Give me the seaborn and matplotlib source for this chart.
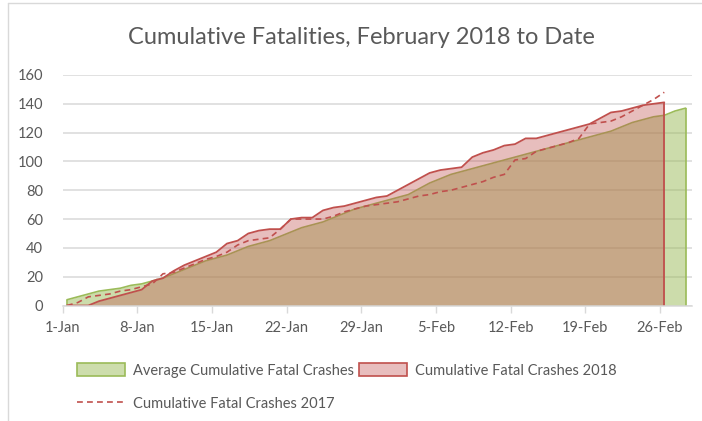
import numpy as np
import pandas as pd
import matplotlib
matplotlib.use("Agg")
import matplotlib.pyplot as plt
import seaborn as sns
from matplotlib.patches import Patch
from matplotlib.lines import Line2D

# ---- data ----
tick_labels = ["1-Jan", "8-Jan", "15-Jan", "22-Jan", "29-Jan", "5-Feb", "12-Feb", "19-Feb", "26-Feb"]
avg_cum = [4, 6, 8, 10, 11, 12, 14, 15, 17, 19, 22, 25, 28, 31, 33, 35, 38, 41, 43, 45,
           48, 51, 54, 56, 58, 61, 64, 67, 69, 71, 73, 75, 77, 81, 85, 88, 91, 93, 95, 97,
           99, 101, 103, 105, 107, 109, 111, 113, 115, 117, 119, 121, 124, 127, 129, 131, 132, 135, 137]
cum_2018 = [0, 0, 0, 3, 5, 7, 9, 11, 17, 19, 24, 28, 31, 34, 37, 43, 45, 50, 52, 53,
            53, 60, 61, 61, 66, 68, 69, 71, 73, 75, 76, 80, 84, 88, 92, 94, 95, 96, 103, 106,
            108, 111, 112, 116, 116, 118, 120, 122, 124, 126, 130, 134, 135, 137, 139, 140, 141]
cum_2017 = [0, 2, 6, 7, 8, 10, 11, 13, 15, 22, 23, 26, 29, 32, 34, 37, 42, 45, 46, 47,
            53, 60, 60, 60, 60, 62, 65, 67, 69, 70, 71, 72, 74, 76, 77, 79, 80, 82, 84, 86,
            89, 91, 101, 102, 107, 109, 111, 113, 116, 126, 127, 128, 131, 135, 139, 143, 148]

labels = ["Average Cumulative Fatal Crashes", "Cumulative Fatal Crashes 2018",
          "Cumulative Fatal Crashes 2017"]

GREEN = "#9BBB59"
RED = "#C0504D"
TEXT = "#595959"
GRID = "#D9D9D9"

sns.set_theme(style="white")
plt.rcParams["font.family"] = ["Lato", "DejaVu Sans"]

offset = 0.4
df_avg = pd.DataFrame({"x": np.arange(len(avg_cum)) + offset, "y": avg_cum})
df_18 = pd.DataFrame({"x": np.arange(len(cum_2018)) + offset, "y": cum_2018})
df_17 = pd.DataFrame({"x": np.arange(len(cum_2017)) + offset, "y": cum_2017})

fig = plt.figure(figsize=(7.02, 4.21), dpi=100)
ax = fig.add_axes([62.7 / 702, 1 - 305.5 / 421, (692 - 62.7) / 702, (305.5 - 75) / 421])

ax.set_ylim(0, 160)
ax.set_xlim(0, 59.0)
ax.set_yticks(np.arange(0, 161, 20))
ax.yaxis.grid(True, color=GRID, lw=1.1, zorder=0)
ax.set_axisbelow(True)

# green area
ax.fill_between(df_avg["x"], 0, df_avg["y"], color=GREEN, alpha=0.5, lw=0, zorder=2)
sns.lineplot(data=df_avg, x="x", y="y", color=GREEN, lw=1.2, ax=ax, zorder=3)
ax.vlines([df_avg["x"].iloc[0], df_avg["x"].iloc[-1]], 0, [avg_cum[0], avg_cum[-1]],
          color=GREEN, lw=1.2, zorder=3)

# red area
ax.fill_between(df_18["x"], 0, df_18["y"], color=RED, alpha=0.37, lw=0, zorder=4)
sns.lineplot(data=df_18, x="x", y="y", color=RED, lw=1.3, ax=ax, zorder=5)
ax.vlines([df_18["x"].iloc[-1]], 0, [cum_2018[-1]], color=RED, lw=1.3, zorder=5)

# dashed 2017
sns.lineplot(data=df_17, x="x", y="y", color=RED, lw=1.2, ax=ax, zorder=6,
             linestyle=(0, (3.5, 2.5)))

ax.set_xticks(np.arange(0, 57, 7))
ax.set_xticklabels(tick_labels)
ax.set_xlabel("")
ax.set_ylabel("")
for s in ["top", "right", "left"]:
    ax.spines[s].set_visible(False)
ax.spines["bottom"].set_color(GRID)
ax.spines["bottom"].set_linewidth(1.1)
ax.spines["bottom"].set_zorder(7)
ax.tick_params(axis="x", which="both", bottom=True, length=5, width=1.0, color=GRID,
               labelsize=10.5, labelcolor=TEXT, pad=6, direction="out")
ax.tick_params(axis="y", length=0, labelsize=10.5, labelcolor=TEXT, pad=14)
if ax.get_legend():
    ax.get_legend().remove()

fig.text(361 / 702, 1 - 38 / 421, "Cumulative Fatalities, February 2018 to Date",
         ha="center", va="center", fontsize=17, color=TEXT)

h_green = Patch(facecolor="#CDDDAC", edgecolor=GREEN, lw=1.2)
h_red = Patch(facecolor="#E8BEBE", edgecolor=RED, lw=1.2)
h_dash = Line2D([0], [0], color=RED, lw=1.2, linestyle=(0, (3.5, 2.5)))
# column-major filling: col1 = green, dashed; col2 = red
fig.legend([h_green, h_dash, h_red], [labels[0], labels[2], labels[1]], ncol=2,
           loc="upper left", bbox_to_anchor=(64 / 702, 1 - 350 / 421), frameon=False,
           fontsize=10.5, labelcolor=TEXT, handlelength=3.3, handleheight=1.0,
           handletextpad=0.5, columnspacing=0.4, labelspacing=1.3)

# chart border (left and top visible)
fig.add_artist(Line2D([8 / 702, 8 / 702], [0, 1 - 3 / 421], color=GRID, lw=1.0,
                      transform=fig.transFigure))
fig.add_artist(Line2D([8 / 702, 1], [1 - 3 / 421, 1 - 3 / 421], color=GRID, lw=1.0,
                      transform=fig.transFigure))

fig.savefig("out.png", dpi=100)
